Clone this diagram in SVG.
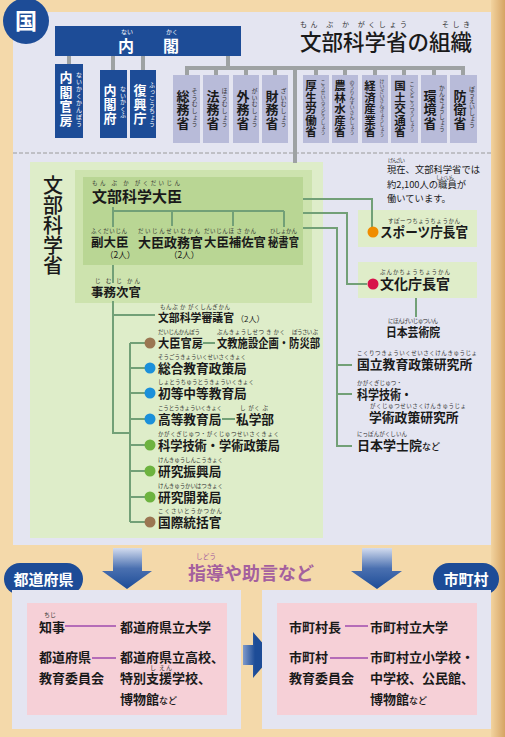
<svg xmlns="http://www.w3.org/2000/svg" width="505" height="737" viewBox="0 0 505 737">
<defs>
<style>
.t{font-family:"Noto Sans CJK JP","Noto Sans",sans-serif;font-weight:700;fill:#1a1a1a}
.r{font-family:"Noto Sans CJK JP","Noto Sans",sans-serif;font-weight:400;font-size:5.5px;fill:#333}
.w{fill:#fff}
.v{writing-mode:vertical-rl}
.gl{stroke:#9ea2a3;stroke-width:4;fill:none}
.cn{stroke:#72a077;stroke-width:2;fill:none}
.pl{stroke:#b56cb8;stroke-width:2;fill:none}
.nb{fill:#1d4c97}
.mn{fill:#b8bbd9}
.pk{fill:#f6d0d7}
.lv{fill:#e4e5f1}
.sm{font-size:9px}
</style>
<linearGradient id="ad" x1="0" y1="0" x2="0" y2="1"><stop offset="0" stop-color="#d3dcef"/><stop offset="0.5" stop-color="#4a70b0"/><stop offset="1" stop-color="#1d4c97"/></linearGradient>
<linearGradient id="ar" x1="0" y1="0" x2="1" y2="0"><stop offset="0" stop-color="#7f9acb"/><stop offset="0.4" stop-color="#1d4c97"/><stop offset="1" stop-color="#1d4c97"/></linearGradient>
<linearGradient id="edge" x1="0" y1="0" x2="1" y2="0"><stop offset="0" stop-color="#f2d39f"/><stop offset="1" stop-color="#d6a464"/></linearGradient>
</defs>
<rect x="0" y="0" width="505" height="737" fill="#f4d9aa"/>
<rect x="491" y="0" width="14" height="737" fill="url(#edge)"/>
<rect class="lv" x="13" y="12" width="478" height="533"/>
<line x1="13" y1="153" x2="491" y2="153" stroke="#9a9a9a" stroke-width="1" stroke-dasharray="4 2"/>
<rect x="30" y="162" width="293" height="376" fill="#deedc9"/>
<rect x="75" y="170" width="237" height="133" fill="#cde3ae"/>
<rect x="83" y="177" width="220" height="88" fill="#b9d694"/>
<rect x="358" y="210" width="119" height="37" fill="#dfedc9"/>
<rect x="358" y="262" width="119" height="36" fill="#dfedc9"/>

<g id="connectors">
<path class="gl" d="M69,56V64M113,56V70M143,56V70M228,56V68M185,68H465M187,68V75M216,68V75M246,68V75M275,68V75M316,68V75M345,68V75M375,68V75M404,68V75M434,68V75M463,68V75M295,68V163"/>
<path class="cn" d="M113,207V227M113,211H284M172,211V226M233,211V226M284,211V227M113,265V283M113,301V433H130M113,315H155M130,343V522M130,343H145M130,368H145M130,393H145M130,419H145M130,445H145M130,471H145M130,497H145M130,522H145M203,343H215M222,419H235M303,199H372V228M303,213H347V284H367M303,228H337V446H352M337,365H352M337,394H352M416,298V317"/>
</g>

<g id="kuni"><circle cx="26" cy="21" r="23" class="nb"/><text class="t w" x="26" y="29" font-size="22" text-anchor="middle">国</text></g>

<g id="title"><text class="t" x="300" y="50" font-size="21.5" style="font-weight:500">文部科学省の組織</text>
<text class="r" x="300" y="27" style="font-size:7px" textLength="107">もん ぶ か がくしょう</text>
<text class="r" x="442" y="27" style="font-size:7px" textLength="28">そしき</text></g>

<g id="naikaku"><rect class="nb" x="55" y="26" width="186" height="30"/>
<text class="t w" x="118" y="52" font-size="16">内</text><text class="t w" x="163" y="52" font-size="16">閣</text>
<text class="r w" x="121" y="34" style="font-size:6px">ない</text><text class="r w" x="166" y="34" style="font-size:6px">かく</text></g>

<g id="kanbo"><rect class="nb" x="55" y="64" width="28" height="74"/><text class="t w v" x="66" y="71" font-size="13" letter-spacing="1.3">内閣官房</text><text class="r w v" x="79" y="72" style="font-size:6px" letter-spacing="1">ないかくかんぼう</text></g>
<g id="naikakufu"><rect class="nb" x="100" y="70" width="27" height="68"/><text class="t w v" x="110" y="84" font-size="13" letter-spacing="1">内閣府</text><text class="r w v" x="123" y="86" style="font-size:6px" letter-spacing="0.5">ないかくふ</text></g>
<g id="fukko"><rect class="nb" x="130" y="70" width="26" height="68"/><text class="t w v" x="140" y="84" font-size="13" letter-spacing="1">復興庁</text><text class="r w v" x="152" y="82" style="font-size:6px" letter-spacing="0.5">ふっこうちょう</text></g>

<g id="somu"><rect class="mn" x="173" y="75" width="27" height="68"/><text class="t v" x="183" y="89.5" font-size="13" letter-spacing="0.5">総務省</text><text class="r v" x="194.5" y="88" style="font-size:6px" letter-spacing="0.6">そうむしょう</text></g>
<g id="homu"><rect class="mn" x="203" y="75" width="26" height="68"/><text class="t v" x="213" y="89.5" font-size="13" letter-spacing="0.5">法務省</text><text class="r v" x="224.5" y="88" style="font-size:6px" letter-spacing="0.6">ほうむしょう</text></g>
<g id="gaimu"><rect class="mn" x="233" y="75" width="26" height="68"/><text class="t v" x="243" y="89.5" font-size="13" letter-spacing="0.5">外務省</text><text class="r v" x="254.5" y="88" style="font-size:6px" letter-spacing="0.6">がいむしょう</text></g>
<g id="zaimu"><rect class="mn" x="262" y="75" width="26" height="68"/><text class="t v" x="272" y="89.5" font-size="13" letter-spacing="0.5">財務省</text><text class="r v" x="283.5" y="88" style="font-size:6px" letter-spacing="0.6">ざいむしょう</text></g>
<g id="kosei"><rect class="mn" x="303" y="75" width="26" height="68"/><text class="t v" x="311" y="80" font-size="11.5">厚生労働省</text><text class="r v" x="323" y="80" style="font-size:5px">こうせいろうどうしょう</text></g>
<g id="norin"><rect class="mn" x="332" y="75" width="26" height="68"/><text class="t v" x="340" y="80" font-size="11.5">農林水産省</text><text class="r v" x="352" y="80" style="font-size:5px">のうりんすいさんしょう</text></g>
<g id="keizai"><rect class="mn" x="362" y="75" width="26" height="68"/><text class="t v" x="370" y="80" font-size="11.5">経済産業省</text><text class="r v" x="382" y="79" style="font-size:4.8px">けいざいさんぎょうしょう</text></g>
<g id="kokudo"><rect class="mn" x="391" y="75" width="27" height="68"/><text class="t v" x="400" y="80" font-size="11.5">国土交通省</text><text class="r v" x="412" y="82" style="font-size:5px">こくどこうつうしょう</text></g>
<g id="kankyo"><rect class="mn" x="421" y="75" width="26" height="68"/><text class="t v" x="430" y="89.5" font-size="13" letter-spacing="0.5">環境省</text><text class="r v" x="442" y="85" style="font-size:5.8px">かんきょうしょう</text></g>
<g id="boei"><rect class="mn" x="450" y="75" width="27" height="68"/><text class="t v" x="460" y="89.5" font-size="13" letter-spacing="0.5">防衛省</text><text class="r v" x="472" y="86" style="font-size:6px">ぼうえいしょう</text></g>

<g id="monka"><text class="t v" x="53" y="175" font-size="20" style="font-weight:500">文部科学省</text></g>

<g id="daijin"><text class="t" x="92" y="202" font-size="15">文部科学大臣</text><text class="r" x="92" y="185" textLength="88">もん ぶ か がくだいじん</text></g>
<g id="fukudaijin"><text class="t" x="91" y="247" font-size="12.5">副大臣</text><text class="r" x="91" y="233" textLength="36">ふくだいじん</text><text class="t" x="105" y="258" font-size="8.5" style="font-weight:400">（2人）</text></g>
<g id="seimukan"><text class="t" x="138" y="247" font-size="13">大臣政務官</text><text class="r" x="138" y="233" textLength="62">だいじんせいむかん</text><text class="t" x="169" y="258" font-size="8.5" style="font-weight:400">（2人）</text></g>
<g id="hosakan"><text class="t" x="204" y="247" font-size="12.5" textLength="62" lengthAdjust="spacingAndGlyphs">大臣補佐官</text><text class="r" x="204" y="233" textLength="52">だいじんほ さ かん</text></g>
<g id="hishokan"><text class="t" x="268" y="247" font-size="12.5" textLength="31" lengthAdjust="spacingAndGlyphs">秘書官</text><text class="r" x="270" y="233" textLength="27">ひしょかん</text></g>
<g id="jimujikan"><text class="t" x="91" y="297" font-size="12.5">事務次官</text><text class="r" x="95" y="283" textLength="45">じ む じ かん</text></g>
<g id="shingikan"><text class="t" x="158" y="322" font-size="11.5" textLength="76" lengthAdjust="spacingAndGlyphs">文部科学審議官</text><text class="t" x="236" y="322" font-size="8" style="font-weight:400">（2人）</text><text class="r" x="160" y="309" textLength="70">もんぶ か がくしんぎかん</text></g>

<g id="kanbo2"><circle cx="150" cy="343" r="5.5" fill="#9b7652"/><text class="t" x="158" y="348" font-size="12.5" textLength="45" lengthAdjust="spacingAndGlyphs">大臣官房</text><text class="t" x="217" y="348" font-size="12.5" textLength="103" lengthAdjust="spacingAndGlyphs">文教施設企画・防災部</text><text class="r" x="158" y="334" textLength="42">だいじんかんぼう</text><text class="r" x="217" y="334" textLength="68">ぶんきょうしせつ き かく</text><text class="r" x="292" y="334" textLength="26">ぼうさい ぶ</text></g>
<g id="sogo"><circle cx="150" cy="368" r="5.5" fill="#1b90da"/><text class="t" x="158" y="373" font-size="12.7">総合教育政策局</text><text class="r" x="158" y="359" textLength="88">そうごうきょういくせいさくきょく</text></g>
<g id="shoto"><circle cx="150" cy="393" r="5.5" fill="#1b90da"/><text class="t" x="158" y="398" font-size="12.7">初等中等教育局</text><text class="r" x="158" y="384" textLength="96">しょとうちゅうとうきょういくきょく</text></g>
<g id="koto"><circle cx="150" cy="419" r="5.5" fill="#1b90da"/><text class="t" x="158" y="424" font-size="12.7">高等教育局</text><text class="t" x="236" y="424" font-size="12.7">私学部</text><text class="r" x="158" y="410" textLength="64">こうとうきょういくきょく</text><text class="r" x="240" y="410" textLength="28">し がく ぶ</text></g>
<g id="kagaku"><circle cx="150" cy="445" r="5.5" fill="#6db33f"/><text class="t" x="158" y="450" font-size="12.7" textLength="122" lengthAdjust="spacingAndGlyphs">科学技術・学術政策局</text><text class="r" x="158" y="436" textLength="121">かがくぎじゅつ・がくじゅつせいさくきょく</text></g>
<g id="shinko"><circle cx="150" cy="471" r="5.5" fill="#6db33f"/><text class="t" x="158" y="476" font-size="12.7">研究振興局</text><text class="r" x="158" y="462" textLength="65">けんきゅうしんこうきょく</text></g>
<g id="kaihatsu"><circle cx="150" cy="497" r="5.5" fill="#6db33f"/><text class="t" x="158" y="502" font-size="12.7">研究開発局</text><text class="r" x="158" y="488" textLength="65">けんきゅうかいはつきょく</text></g>
<g id="kokusai"><circle cx="150" cy="522" r="5.5" fill="#9b7652"/><text class="t" x="158" y="527" font-size="12.7">国際統括官</text><text class="r" x="158" y="513" textLength="64">こくさいとうかつかん</text></g>

<g id="note"><text class="t" x="387" y="173" font-size="9.3" style="font-weight:400">現在、文部科学省では</text><text class="t" x="387" y="188" font-size="9.3" style="font-weight:400">約2,100人の職員が</text><text class="t" x="387" y="202" font-size="9.3" style="font-weight:400">働いています。</text><text class="r" x="388" y="162" style="font-size:5px" textLength="17">げんざい</text><text class="r" x="436" y="179" style="font-size:4.8px" textLength="18">しょくいん</text></g>

<g id="sports"><circle cx="373" cy="232" r="5.5" fill="#f08c00"/><text class="t" x="380" y="237" font-size="14" textLength="88" lengthAdjust="spacingAndGlyphs">スポーツ庁長官</text><text class="r" x="388" y="223" textLength="72">すぽーつちょうちょうかん</text></g>
<g id="bunka"><circle cx="373" cy="284" r="5.5" fill="#d8124a"/><text class="t" x="380" y="289" font-size="14">文化庁長官</text><text class="r" x="380" y="274" textLength="70">ぶんかちょうちょうかん</text></g>
<g id="geijutsu"><text class="t" x="386" y="337" font-size="12.5" textLength="54" lengthAdjust="spacingAndGlyphs">日本芸術院</text><text class="r" x="388" y="323" textLength="50">にほんげいじゅついん</text></g>
<g id="kokken"><text class="t" x="357" y="369" font-size="12.8">国立教育政策研究所</text><text class="r" x="357" y="355" textLength="120">こくりつきょういくせいさくけんきゅうじょ</text></g>
<g id="nistep"><text class="t" x="357" y="399" font-size="12.8" textLength="55" lengthAdjust="spacingAndGlyphs">科学技術・</text><text class="t" x="369" y="422" font-size="12.8">学術政策研究所</text><text class="r" x="357" y="385" textLength="45">かがくぎじゅつ・</text><text class="r" x="370" y="408" textLength="96">がくじゅつせいさくけんきゅうじょ</text></g>
<g id="gakushiin"><text class="t" x="357" y="450" font-size="13">日本学士院<tspan font-size="9" style="font-weight:500">など</tspan></text><text class="r" x="357" y="436" textLength="50">にっぽんがくしいん</text></g>

<g id="arrows"><path d="M113,548H142V571H152L127,589L102,571H113Z" fill="url(#ad)"/><path d="M362,548H392V571H402L377,589L351,571H362Z" fill="url(#ad)"/></g>
<g id="shido"><text class="t" x="188" y="580" font-size="18" style="fill:#a4609e">指導や助言など</text><text class="r" x="196" y="559" style="font-size:6.5px;fill:#a4609e" textLength="20">しどう</text></g>

<g id="todofuken-label"><rect class="nb" x="4" y="563" width="79" height="32" rx="16"/><text class="t w" x="43.5" y="585" font-size="15" text-anchor="middle">都道府県</text></g>
<g id="shichoson-label"><rect class="nb" x="433" y="563" width="66" height="32" rx="16"/><text class="t w" x="466" y="585" font-size="15" text-anchor="middle">市町村</text></g>

<g id="pref"><rect class="lv" x="12" y="590" width="229" height="139"/><rect class="pk" x="27" y="603" width="200" height="112"/>
<text class="t" x="39" y="632" font-size="13">知事</text><text class="r" x="44" y="617" style="font-size:6px">ちじ</text>
<text class="t" x="120" y="632" font-size="13">都道府県立大学</text>
<text class="t" x="39" y="662" font-size="13">都道府県</text><text class="t" x="39" y="683" font-size="13">教育委員会</text>
<text class="t" x="120" y="662" font-size="13">都道府県立高校、</text><text class="t" x="120" y="683" font-size="13">特別支援学校、</text><text class="r" x="150" y="670" style="font-size:6px" textLength="22">し えん</text>
<text class="t" x="120" y="704" font-size="13">博物館<tspan font-size="9" style="font-weight:500">など</tspan></text></g>

<g id="arrow-mid"><path d="M243,645H253V632L273,655L253,678V665H243Z" fill="url(#ar)"/></g>

<g id="city"><rect class="lv" x="262" y="590" width="229" height="139"/><rect class="pk" x="277" y="603" width="200" height="112"/>
<text class="t" x="289" y="632" font-size="13">市町村長</text><text class="t" x="370" y="632" font-size="13">市町村立大学</text>
<text class="t" x="289" y="662" font-size="13">市町村</text><text class="t" x="289" y="683" font-size="13">教育委員会</text>
<text class="t" x="370" y="662" font-size="13">市町村立小学校・</text><text class="t" x="370" y="683" font-size="13">中学校、公民館、</text>
<text class="t" x="370" y="704" font-size="13">博物館<tspan font-size="9" style="font-weight:500">など</tspan></text></g>

<g id="connectors-local">
<path class="pl" d="M65,626H116M92,658H116M345,626H368M330,658H368"/>
</g>
</svg>
